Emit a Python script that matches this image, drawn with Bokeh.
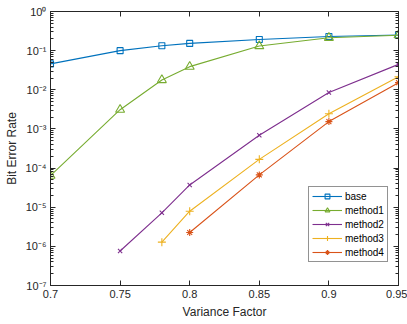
from bokeh.plotting import figure
from bokeh.models import FixedTicker, LinearAxis, LogAxis, Range1d, Legend
from bokeh.embed import file_html
from bokeh.resources import INLINE

# ---- data ----
x_base = [0.70, 0.75, 0.78, 0.80, 0.85, 0.90, 0.95]
base = [0.046, 0.10, 0.133, 0.153, 0.193, 0.23, 0.25]
x_m1 = [0.70, 0.75, 0.78, 0.80, 0.85, 0.90, 0.95]
method1 = [6.4e-5, 3.1e-3, 0.0178, 0.039, 0.131, 0.213, 0.248]
x_m2 = [0.75, 0.78, 0.80, 0.85, 0.90, 0.95]
method2 = [7.6e-7, 7.2e-6, 3.7e-5, 6.9e-4, 8.5e-3, 0.0446]
x_m3 = [0.78, 0.80, 0.85, 0.90, 0.95]
method3 = [1.28e-6, 7.9e-6, 1.67e-4, 2.45e-3, 0.0216]
x_m4 = [0.80, 0.85, 0.90, 0.95]
method4 = [2.26e-6, 6.7e-5, 1.54e-3, 0.0152]

x_ticks = [0.7, 0.75, 0.8, 0.85, 0.9, 0.95]
x_tick_labels = ["0.7", "0.75", "0.8", "0.85", "0.9", "0.95"]
y_ticks = [1e-7, 1e-6, 1e-5, 1e-4, 1e-3, 1e-2, 1e-1, 1.0]
y_tick_labels = ["10⁻⁷", "10⁻⁶", "10⁻⁵", "10⁻⁴", "10⁻³", "10⁻²", "10⁻¹", "10⁰"]
y_minor = [m * t for t in y_ticks[:-1] for m in range(2, 10)]

series = [
    ("base", x_base, base, "#0072BD", "square", 6),
    ("method1", x_m1, method1, "#77AC30", "triangle", 9),
    ("method2", x_m2, method2, "#7E2F8E", "x", 6),
    ("method3", x_m3, method3, "#EDB120", "cross", 8),
    ("method4", x_m4, method4, "#D95319", "asterisk", 7),
]

FONT = "Liberation Sans"
TXT = "#262626"

p = figure(width=407, height=324, y_axis_type="log",
           x_range=Range1d(0.7, 0.95), y_range=Range1d(1e-7, 1.0),
           output_backend="svg", toolbar_location=None,
           min_border_left=50, min_border_right=9,
           min_border_top=11, min_border_bottom=39)
p.background_fill_color = "white"
p.border_fill_color = "white"
p.outline_line_color = TXT
p.xgrid.visible = False
p.ygrid.visible = False

for ax in p.xaxis:
    ax.ticker = FixedTicker(ticks=x_ticks, minor_ticks=[])
    ax.major_label_overrides = dict(zip(x_ticks, x_tick_labels))
    ax.axis_label = "Variance Factor"
    ax.axis_label_standoff = 4
for ax in p.yaxis:
    ax.ticker = FixedTicker(ticks=y_ticks, minor_ticks=y_minor)
    ax.major_label_overrides = dict(zip(y_ticks, y_tick_labels))
    ax.axis_label = "Bit Error Rate"
    ax.axis_label_standoff = 4

for ax in list(p.xaxis) + list(p.yaxis):
    ax.major_tick_in = 5
    ax.major_tick_out = 0
    ax.minor_tick_in = 3
    ax.minor_tick_out = 0
    ax.major_label_standoff = 4
    ax.axis_line_color = TXT
    ax.major_tick_line_color = TXT
    ax.minor_tick_line_color = TXT
    ax.major_label_text_font = FONT
    ax.major_label_text_font_size = "11px"
    ax.major_label_text_color = TXT
    ax.axis_label_text_font = FONT
    ax.axis_label_text_font_size = "12px"
    ax.axis_label_text_font_style = "normal"
    ax.axis_label_text_color = TXT

top = LinearAxis(ticker=FixedTicker(ticks=x_ticks, minor_ticks=[]),
                 major_tick_in=5, major_tick_out=0,
                 minor_tick_in=0, minor_tick_out=0,
                 major_label_overrides={t: "" for t in x_ticks},
                 major_label_standoff=0,
                 axis_line_color=TXT, major_tick_line_color=TXT)
right = LogAxis(ticker=FixedTicker(ticks=y_ticks, minor_ticks=y_minor),
                major_tick_in=5, major_tick_out=0,
                minor_tick_in=3, minor_tick_out=0,
                major_label_overrides={t: "" for t in y_ticks},
                major_label_standoff=0,
                axis_line_color=TXT, major_tick_line_color=TXT,
                minor_tick_line_color=TXT)
p.add_layout(top, "above")
p.add_layout(right, "right")

items = []
for name, xs, ys, col, mk, sz in series:
    r1 = p.line(xs, ys, line_color=col, line_width=1.1)
    r2 = p.scatter(xs, ys, marker=mk, size=sz, line_color=col,
                   fill_color=None, line_width=1.1)
    items.append((name, [r1, r2]))

legend = Legend(items=items, location=(258, 23))
legend.label_text_font = FONT
legend.label_text_font_size = "10px"
legend.label_text_color = "black"
legend.label_height = 12
legend.glyph_height = 12
legend.glyph_width = 30
legend.label_standoff = 3
legend.spacing = 2
legend.padding = 3
legend.margin = 0
legend.border_line_color = TXT
legend.border_line_width = 1
legend.background_fill_color = "white"
legend.background_fill_alpha = 1.0
p.add_layout(legend, "center")

open("out.html", "w").write(file_html(p, INLINE))
